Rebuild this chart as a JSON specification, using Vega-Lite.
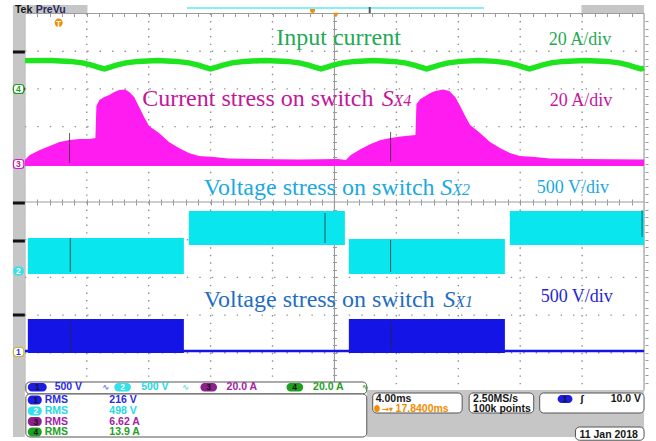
{
"$schema": "https://vega.github.io/schema/vega-lite/v6.json",
"width": 656, "height": 441,
"autosize": {"type": "fit", "contains": "padding"},
"padding": 0,
"background": "white",
"config": {"view": {"stroke": null}},
"resolve": {"axis": {"x": "independent", "y": "independent"}},
"layer": [
{
 "data": {"values": [{"y":4},{"y":3},{"y":2},{"y":1},{"y":-1},{"y":-2},{"y":-3},{"y":-4}]},
 "mark": {"type": "rule", "color": "#8f8f8f", "strokeWidth": 1.4, "strokeDash": [1.4, 11.06]},
 "encoding": {
  "x": {"datum": 0, "type": "quantitative", "scale": {"domain": [-0.4013, 10.1284], "nice": false, "zero": false}, "axis": null},
  "x2": {"datum": 10},
  "y": {"field": "y", "type": "quantitative", "scale": {"domain": [-6.3395, 5.3581], "nice": false, "zero": false}, "axis": null}
 }
},
{
 "data": {"values": [{"x":1},{"x":2},{"x":3},{"x":4},{"x":6},{"x":7},{"x":8},{"x":9}]},
 "mark": {"type": "rule", "color": "#8f8f8f", "strokeWidth": 1.4, "strokeDash": [1.4, 6.14]},
 "encoding": {
  "x": {"field": "x", "type": "quantitative", "scale": {"domain": [-0.4013, 10.1284], "nice": false, "zero": false}, "axis": null},
  "y": {"datum": 5, "type": "quantitative", "scale": {"domain": [-6.3395, 5.3581], "nice": false, "zero": false}, "axis": null},
  "y2": {"datum": -5}
 }
},
{
 "data": {"values": [
  {"x":0,"x2":10,"y":0,"y2":0},
  {"x":5,"x2":5,"y":5,"y2":-5},
  {"x":0,"x2":10,"y":5,"y2":5},
  {"x":10,"x2":10,"y":5,"y2":-5},
  {"x":0,"x2":0,"y":5,"y2":-5}
 ]},
 "mark": {"type": "rule", "color": "#9c9c9c", "strokeWidth": 1.2},
 "encoding": {
  "x": {"field": "x", "type": "quantitative", "scale": {"domain": [-0.4013, 10.1284], "nice": false, "zero": false},
   "axis": {"orient": "bottom", "offset": -239, "values": [0.2,0.4,0.6,0.8,1,1.2,1.4,1.6,1.8,2,2.2,2.4,2.6,2.8,3,3.2,3.4,3.6,3.8,4,4.2,4.4,4.6,4.8,5,5.2,5.4,5.6,5.8,6,6.2,6.4,6.6,6.8,7,7.2,7.4,7.6,7.8,8,8.2,8.4,8.6,8.8,9,9.2,9.4,9.6,9.8], "labels": false, "domain": false, "grid": false, "ticks": true, "tickSize": 3, "tickColor": "#999999", "tickWidth": 1, "title": null, "minExtent": 0}},
  "x2": {"field": "x2"},
  "y": {"field": "y", "type": "quantitative", "scale": {"domain": [-6.3395, 5.3581], "nice": false, "zero": false},
   "axis": {"orient": "left", "offset": -336.5, "values": [-4.8,-4.6,-4.4,-4.2,-4,-3.8,-3.6,-3.4,-3.2,-3,-2.8,-2.6,-2.4,-2.2,-2,-1.8,-1.6,-1.4,-1.2,-1,-0.8,-0.6,-0.4,-0.2,0.2,0.4,0.6,0.8,1,1.2,1.4,1.6,1.8,2,2.2,2.4,2.6,2.8,3,3.2,3.4,3.6,3.8,4,4.2,4.4,4.6,4.8], "labels": false, "domain": false, "grid": false, "ticks": true, "tickSize": 3, "tickColor": "#999999", "tickWidth": 1, "title": null, "minExtent": 0}},
  "y2": {"field": "y2"}
 }
},
{
 "data": {"values": [{"x":0,"x2":10,"y":-3.9523}]},
 "mark": {"type": "rule", "color": "#1414e6", "strokeWidth": 2.5},
 "encoding": {
  "x": {"field": "x", "type": "quantitative", "scale": {"domain": [-0.4013, 10.1284], "nice": false, "zero": false}, "axis": null},
  "x2": {"field": "x2"},
  "y": {"field": "y", "type": "quantitative", "scale": {"domain": [-6.3395, 5.3581], "nice": false, "zero": false}, "axis": null}
 }
},
{
 "data": {"values": [
  {"x":0.0482,"x2":2.5682,"y":-3.1034,"y2":-4.0053},
  {"x":5.2327,"x2":7.7528,"y":-3.1034,"y2":-4.0053}
 ]},
 "mark": {"type": "rect", "color": "#1414e6"},
 "encoding": {
  "x": {"field": "x", "type": "quantitative", "scale": {"domain": [-0.4013, 10.1284], "nice": false, "zero": false}, "axis": null},
  "x2": {"field": "x2"},
  "y": {"field": "y", "type": "quantitative", "scale": {"domain": [-6.3395, 5.3581], "nice": false, "zero": false}, "axis": null},
  "y2": {"field": "y2"}
 }
},
{
 "data": {"values": [
  {"x":0.0482,"x2":2.5682,"y":-0.9549,"y2":-1.9098},
  {"x":2.6485,"x2":5.1685,"y":-0.2387,"y2":-1.1406},
  {"x":5.2327,"x2":7.7528,"y":-0.9814,"y2":-1.9098},
  {"x":7.8331,"x2":10.0,"y":-0.2387,"y2":-1.1406}
 ]},
 "mark": {"type": "rect", "color": "#0ae6ee"},
 "encoding": {
  "x": {"field": "x", "type": "quantitative", "scale": {"domain": [-0.4013, 10.1284], "nice": false, "zero": false}, "axis": null},
  "x2": {"field": "x2"},
  "y": {"field": "y", "type": "quantitative", "scale": {"domain": [-6.3395, 5.3581], "nice": false, "zero": false}, "axis": null},
  "y2": {"field": "y2"}
 }
},
{
 "data": {"values": [
  {"x":0.0,"t":1.1141},{"x":0.0803,"t":1.2467},{"x":0.2408,"t":1.3793},{"x":0.4013,"t":1.4854},{"x":0.5618,"t":1.5915},{"x":0.7223,"t":1.6446},{"x":0.8828,"t":1.6711},{"x":1.0433,"t":1.6711},{"x":1.1396,"t":1.6976},{"x":1.1557,"t":2.5464},{"x":1.2039,"t":2.7056},{"x":1.2841,"t":2.7851},{"x":1.3644,"t":2.8382},{"x":1.4446,"t":2.9178},{"x":1.5249,"t":2.9708},{"x":1.6212,"t":2.9841},{"x":1.6854,"t":2.9178},{"x":1.7657,"t":2.7851},{"x":1.8459,"t":2.5199},{"x":1.9262,"t":2.2546},{"x":2.0064,"t":2.0159},{"x":2.1669,"t":1.8302},{"x":2.3274,"t":1.5915},{"x":2.488,"t":1.4324},{"x":2.6485,"t":1.2997},{"x":2.809,"t":1.2202},{"x":3.0498,"t":1.1936},{"x":3.2905,"t":1.1538},{"x":3.7721,"t":1.1406},{"x":4.4141,"t":1.1273},{"x":5.0562,"t":1.1406},
  {"x":5.1846,"t":1.1141},{"x":5.2648,"t":1.2467},{"x":5.4254,"t":1.4058},{"x":5.5859,"t":1.5385},{"x":5.7464,"t":1.6446},{"x":5.9069,"t":1.6976},{"x":6.0674,"t":1.7374},{"x":6.2279,"t":1.7639},{"x":6.3082,"t":1.7772},{"x":6.3242,"t":2.5995},{"x":6.3884,"t":2.7321},{"x":6.4687,"t":2.8117},{"x":6.549,"t":2.8912},{"x":6.6292,"t":2.9443},{"x":6.7576,"t":2.9841},{"x":6.8539,"t":2.9443},{"x":6.9502,"t":2.7851},{"x":7.0305,"t":2.5464},{"x":7.1108,"t":2.2812},{"x":7.191,"t":2.0424},{"x":7.3515,"t":1.8302},{"x":7.512,"t":1.5915},{"x":7.6726,"t":1.4324},{"x":7.8331,"t":1.2997},{"x":7.9936,"t":1.2202},{"x":8.2343,"t":1.1936},{"x":8.4751,"t":1.1538},{"x":9.069,"t":1.1406},{"x":10.0,"t":1.1273}
 ]},
 "mark": {"type": "area", "color": "#ff1cf0", "opacity": 1},
 "encoding": {
  "x": {"field": "x", "type": "quantitative", "scale": {"domain": [-0.4013, 10.1284], "nice": false, "zero": false}, "axis": null},
  "y": {"field": "t", "type": "quantitative", "scale": {"domain": [-6.3395, 5.3581], "nice": false, "zero": false},
   "axis": {"orient": "right", "offset": -631, "values": [-4.8,-4.6,-4.4,-4.2,-4,-3.8,-3.6,-3.4,-3.2,-3,-2.8,-2.6,-2.4,-2.2,-2,-1.8,-1.6,-1.4,-1.2,-1,-0.8,-0.6,-0.4,-0.2,0,0.2,0.4,0.6,0.8,1,1.2,1.4,1.6,1.8,2,2.2,2.4,2.6,2.8,3,3.2,3.4,3.6,3.8,4,4.2,4.4,4.6,4.8], "labels": false, "domain": false, "grid": false, "ticks": true, "tickSize": 3, "tickColor": "#999999", "tickWidth": 1, "title": null, "minExtent": 0}},
  "y2": {"datum": 0.955}
 }
},
{
 "data": {"values": [
  {"x":0,"y":3.75},{"x":0.43,"y":3.755},{"x":0.73,"y":3.73},{"x":0.93,"y":3.69},{"x":1.08,"y":3.63},{"x":1.18,"y":3.58},{"x":1.284,"y":3.53},{"x":1.38,"y":3.58},{"x":1.48,"y":3.63},{"x":1.63,"y":3.69},{"x":1.83,"y":3.73},{"x":2.14,"y":3.755},{"x":2.45,"y":3.73},{"x":2.65,"y":3.69},{"x":2.8,"y":3.63},{"x":2.9,"y":3.58},{"x":2.997,"y":3.53},{"x":3.1,"y":3.58},{"x":3.2,"y":3.63},{"x":3.35,"y":3.69},{"x":3.55,"y":3.73},{"x":3.89,"y":3.755},{"x":4.23,"y":3.73},{"x":4.43,"y":3.69},{"x":4.58,"y":3.63},{"x":4.68,"y":3.58},{"x":4.783,"y":3.53},{"x":4.88,"y":3.58},{"x":4.98,"y":3.63},{"x":5.13,"y":3.69},{"x":5.33,"y":3.73},{"x":5.64,"y":3.755},{"x":5.94,"y":3.73},{"x":6.14,"y":3.69},{"x":6.29,"y":3.63},{"x":6.39,"y":3.58},{"x":6.489,"y":3.53},{"x":6.59,"y":3.58},{"x":6.69,"y":3.63},{"x":6.84,"y":3.69},{"x":7.04,"y":3.73},{"x":7.32,"y":3.755},{"x":7.6,"y":3.73},{"x":7.8,"y":3.69},{"x":7.95,"y":3.63},{"x":8.05,"y":3.58},{"x":8.149,"y":3.53},{"x":8.25,"y":3.58},{"x":8.35,"y":3.63},{"x":8.5,"y":3.69},{"x":8.7,"y":3.73},{"x":9.05,"y":3.755},{"x":9.4,"y":3.73},{"x":9.6,"y":3.69},{"x":9.75,"y":3.63},{"x":9.85,"y":3.58},{"x":9.95,"y":3.53},{"x":10.0,"y":3.55}
 ]},
 "mark": {"type": "line", "color": "#1ee41e", "strokeWidth": 5.5},
 "encoding": {
  "x": {"field": "x", "type": "quantitative", "scale": {"domain": [-0.4013, 10.1284], "nice": false, "zero": false},
   "axis": {"orient": "bottom", "offset": -427.5, "values": [0.2,0.4,0.6,0.8,1,1.2,1.4,1.6,1.8,2,2.2,2.4,2.6,2.8,3,3.2,3.4,3.6,3.8,4,4.2,4.4,4.6,4.8,5,5.2,5.4,5.6,5.8,6,6.2,6.4,6.6,6.8,7,7.2,7.4,7.6,7.8,8,8.2,8.4,8.6,8.8,9,9.2,9.4,9.6,9.8], "labels": false, "domain": false, "grid": false, "ticks": true, "tickSize": 3, "tickColor": "#999999", "tickWidth": 1, "title": null, "minExtent": 0}},
  "y": {"field": "y", "type": "quantitative", "scale": {"domain": [-6.3395, 5.3581], "nice": false, "zero": false},
   "axis": {"orient": "left", "offset": -648, "values": [-4.8,-4.6,-4.4,-4.2,-4,-3.8,-3.6,-3.4,-3.2,-3,-2.8,-2.6,-2.4,-2.2,-2,-1.8,-1.6,-1.4,-1.2,-1,-0.8,-0.6,-0.4,-0.2,0,0.2,0.4,0.6,0.8,1,1.2,1.4,1.6,1.8,2,2.2,2.4,2.6,2.8,3,3.2,3.4,3.6,3.8,4,4.2,4.4,4.6,4.8], "labels": false, "domain": false, "grid": false, "ticks": true, "tickSize": 3, "tickColor": "#999999", "tickWidth": 1, "title": null, "minExtent": 0}}
 }
},
{
 "data": {"values": [
  {"x":0.7223,"y":1.8302,"y2":1.0345},{"x":5.9069,"y":1.8568,"y2":1.061},
  {"x":0.7335,"y":-0.9549,"y2":-1.8568},{"x":5.9069,"y":-1.008,"y2":-1.8568},
  {"x":4.8475,"y":-0.2918,"y2":-1.0875},{"x":9.9679,"y":-0.2122,"y2":-0.9284},
  {"x":0.7335,"y":-3.2095,"y2":-3.9788},{"x":5.9069,"y":-3.2095,"y2":-3.9257}
 ]},
 "mark": {"type": "rule", "color": "#2a2a2a", "strokeWidth": 1, "opacity": 0.75},
 "encoding": {
  "x": {"field": "x", "type": "quantitative", "scale": {"domain": [-0.4013, 10.1284], "nice": false, "zero": false},
   "axis": {"orient": "top", "offset": -202, "values": [0.2,0.4,0.6,0.8,1,1.2,1.4,1.6,1.8,2,2.2,2.4,2.6,2.8,3,3.2,3.4,3.6,3.8,4,4.2,4.4,4.6,4.8,5,5.2,5.4,5.6,5.8,6,6.2,6.4,6.6,6.8,7,7.2,7.4,7.6,7.8,8,8.2,8.4,8.6,8.8,9,9.2,9.4,9.6,9.8], "labels": false, "domain": false, "grid": false, "ticks": true, "tickSize": 3, "tickColor": "#999999", "tickWidth": 1, "title": null, "minExtent": 0}},
  "y": {"field": "y", "type": "quantitative", "scale": {"domain": [-6.3395, 5.3581], "nice": false, "zero": false},
   "axis": {"orient": "right", "offset": -319.5, "values": [-4.8,-4.6,-4.4,-4.2,-4,-3.8,-3.6,-3.4,-3.2,-3,-2.8,-2.6,-2.4,-2.2,-2,-1.8,-1.6,-1.4,-1.2,-1,-0.8,-0.6,-0.4,-0.2,0.2,0.4,0.6,0.8,1,1.2,1.4,1.6,1.8,2,2.2,2.4,2.6,2.8,3,3.2,3.4,3.6,3.8,4,4.2,4.4,4.6,4.8], "labels": false, "domain": false, "grid": false, "ticks": true, "tickSize": 3, "tickColor": "#999999", "tickWidth": 1, "title": null, "minExtent": 0}},
  "y2": {"field": "y2"}
 }
},
{
 "data": {"values": [
  {"x":-0.1926,"x2":0,"y":5.2255,"y2":-6.2334},
  {"x":-0.1926,"x2":1.0112,"y":5.2255,"y2":5.0133},
  {"x":8.9888,"x2":10,"y":5.2255,"y2":5.0133},
  {"x":5.5217,"x2":10,"y":-4.9867,"y2":-6.2334}
 ]},
 "mark": {"type": "rect", "color": "#c6c6c6"},
 "encoding": {
  "x": {"field": "x", "type": "quantitative", "scale": {"domain": [-0.4013, 10.1284], "nice": false, "zero": false}, "axis": null},
  "x2": {"field": "x2"},
  "y": {"field": "y", "type": "quantitative", "scale": {"domain": [-6.3395, 5.3581], "nice": false, "zero": false}, "axis": null},
  "y2": {"field": "y2"}
 }
},
{
 "data": {"values": [
  {"y":4.0186,"y2":3.939},{"y":3.0371,"y2":2.9576},{"y":0.0133,"y2":-0.0663},{"y":-0.9947,"y2":-1.0743},{"y":-2.9576,"y2":-3.0371}
 ]},
 "mark": {"type": "rect", "color": "#111111"},
 "encoding": {
  "x": {"datum": -0.1926, "type": "quantitative", "scale": {"domain": [-0.4013, 10.1284], "nice": false, "zero": false}, "axis": null},
  "x2": {"datum": 0},
  "y": {"field": "y", "type": "quantitative", "scale": {"domain": [-6.3395, 5.3581], "nice": false, "zero": false}, "axis": null},
  "y2": {"field": "y2"}
 }
},
{
 "data": {"values": [
  {"x":0.0161,"x2":5.5217,"y":-4.7745,"y2":-5.0928},
  {"x":0.0161,"x2":5.5217,"y":-5.0928,"y2":-6.2334},
  {"x":5.618,"x2":7.0626,"y":-5.0663,"y2":-5.5968},
  {"x":7.175,"x2":8.2183,"y":-5.0663,"y2":-5.5968},
  {"x":8.3146,"x2":10.0,"y":-5.0663,"y2":-5.5968},
  {"x":8.8925,"x2":10.0,"y":-5.9682,"y2":-6.32}
 ]},
 "mark": {"type": "rect", "fill": "#ffffff", "stroke": "#555555", "strokeWidth": 1, "cornerRadius": 4},
 "encoding": {
  "x": {"field": "x", "type": "quantitative", "scale": {"domain": [-0.4013, 10.1284], "nice": false, "zero": false}, "axis": null},
  "x2": {"field": "x2"},
  "y": {"field": "y", "type": "quantitative", "scale": {"domain": [-6.3395, 5.3581], "nice": false, "zero": false}, "axis": null},
  "y2": {"field": "y2"}
 }
},
{
 "data": {"values": [
  {"y":3.1167,"y2":2.878,"s":"4"},{"y":1.1273,"y2":0.8886,"s":"3"},{"y":-3.8594,"y2":-4.0981,"s":"1"}
 ]},
 "mark": {"type": "rect", "fill": "#ffffff", "strokeWidth": 1.2, "cornerRadius": 3},
 "encoding": {
  "x": {"datum": -0.1846, "type": "quantitative", "scale": {"domain": [-0.4013, 10.1284], "nice": false, "zero": false}, "axis": null},
  "x2": {"datum": -0.0161},
  "y": {"field": "y", "type": "quantitative", "scale": {"domain": [-6.3395, 5.3581], "nice": false, "zero": false}, "axis": null},
  "y2": {"field": "y2"},
  "stroke": {"field": "s", "type": "nominal", "scale": {"domain": ["4","3","1"], "range": ["#1f9e1f","#d01cc8","#c9b43a"]}, "legend": null}
 }
},
{
 "data": {"values": [
  {"x":0.0482,"x2":0.3531,"y":-4.8011,"y2":-5.0265,"c":"o1"},
  {"x":1.4446,"x2":1.7127,"y":-4.8011,"y2":-5.0265,"c":"o2"},
  {"x":2.836,"x2":3.1034,"y":-4.8011,"y2":-5.0265,"c":"o3"},
  {"x":4.2263,"x2":4.4944,"y":-4.8011,"y2":-5.0265,"c":"o4"},
  {"x":0.0482,"x2":0.2729,"y":-5.1326,"y2":-5.3714,"c":"o1"},
  {"x":0.0482,"x2":0.2729,"y":-5.4244,"y2":-5.6632,"c":"o2"},
  {"x":0.0482,"x2":0.2729,"y":-5.7029,"y2":-5.9417,"c":"o3"},
  {"x":0.0482,"x2":0.2729,"y":-5.9814,"y2":-6.2202,"c":"o4"},
  {"x":8.6035,"x2":8.8443,"y":-5.1194,"y2":-5.3316,"c":"o1"},
  {"x":-0.1846,"x2":-0.0161,"y":-1.7109,"y2":-1.9496,"c":"o2"},
  {"x":0.4815,"x2":0.61,"y":4.8674,"y2":4.6419,"c":"o"},
  {"x":5.642,"x2":5.7303,"y":-5.3846,"y2":-5.5703,"c":"o"},
  {"x":4.6067,"x2":4.687,"y":5.1724,"y2":5.0133,"c":"o"}
 ]},
 "mark": {"type": "rect", "cornerRadius": 4},
 "encoding": {
  "x": {"field": "x", "type": "quantitative", "scale": {"domain": [-0.4013, 10.1284], "nice": false, "zero": false}, "axis": null},
  "x2": {"field": "x2"},
  "y": {"field": "y", "type": "quantitative", "scale": {"domain": [-6.3395, 5.3581], "nice": false, "zero": false}, "axis": null},
  "y2": {"field": "y2"},
  "color": {"field": "c", "type": "nominal", "legend": null, "scale": {"domain": ["g","m","c","b","b2","p1","p2","p3","p4","k","n","o","w","o1","o2","o3","o4","i1","i2","i4","tc","dk"], "range": ["#1fa955","#c4169b","#1aa9e2","#1e6ec2","#2626cf","#2b2be6","#25d9e2","#a422a4","#22a022","#161616","#24285e","#f28c00","#ffffff","#1c1ce2","#30e2ea","#8e1f8e","#1f9e1f","#6a7ae8","#66e0e8","#40b040","#86eef5","#555555"]}}
 }
},
{
 "data": {"values": [
  {"x":2.6164,"x2":7.4157,"y":5.1459,"y2":5.1459,"c":"tc"},
  {"x":5.5698,"x2":5.5698,"y":5.1724,"y2":5.0133,"c":"dk"}
 ]},
 "mark": {"type": "rule", "strokeWidth": 2},
 "encoding": {
  "x": {"field": "x", "type": "quantitative", "scale": {"domain": [-0.4013, 10.1284], "nice": false, "zero": false}, "axis": null},
  "x2": {"field": "x2"},
  "y": {"field": "y", "type": "quantitative", "scale": {"domain": [-6.3395, 5.3581], "nice": false, "zero": false}, "axis": null},
  "y2": {"field": "y2"},
  "color": {"field": "c", "type": "nominal", "legend": null, "scale": {"domain": ["g","m","c","b","b2","p1","p2","p3","p4","k","n","o","w","o1","o2","o3","o4","i1","i2","i4","tc","dk"], "range": ["#1fa955","#c4169b","#1aa9e2","#1e6ec2","#2626cf","#2b2be6","#25d9e2","#a422a4","#22a022","#161616","#24285e","#f28c00","#ffffff","#1c1ce2","#30e2ea","#8e1f8e","#1f9e1f","#6a7ae8","#66e0e8","#40b040","#86eef5","#555555"]}}
 }
},
{
 "data": {"values": [{"x":5.0241,"y":4.96}]},
 "mark": {"type": "point", "shape": "triangle-down", "filled": true, "size": 30, "color": "#f28c00", "opacity": 1},
 "encoding": {
  "x": {"field": "x", "type": "quantitative", "scale": {"domain": [-0.4013, 10.1284], "nice": false, "zero": false}, "axis": null},
  "y": {"field": "y", "type": "quantitative", "scale": {"domain": [-6.3395, 5.3581], "nice": false, "zero": false}, "axis": null}
 }
},
{
 "data": {"values": [
  {"t":"Input current","x":4.061,"y":4.1777,"c":"g"},
  {"t":"Current stress on switch","x":1.8941,"y":2.5464,"c":"m"},
  {"t":"Voltage stress on switch","x":2.8892,"y":0.1857,"c":"c"},
  {"t":"Voltage stress on switch","x":2.8892,"y":-2.7772,"c":"b"}
 ]},
 "mark": {"type": "text", "font": "Liberation Serif", "fontSize": 24, "align": "left", "baseline": "alphabetic"},
 "encoding": {
  "x": {"field": "x", "type": "quantitative", "scale": {"domain": [-0.4013, 10.1284], "nice": false, "zero": false}, "axis": null},
  "y": {"field": "y", "type": "quantitative", "scale": {"domain": [-6.3395, 5.3581], "nice": false, "zero": false}, "axis": null},
  "text": {"field": "t"},
  "color": {"field": "c", "type": "nominal", "legend": null, "scale": {"domain": ["g","m","c","b","b2","p1","p2","p3","p4","k","n","o","w","o1","o2","o3","o4","i1","i2","i4","tc","dk"], "range": ["#1fa955","#c4169b","#1aa9e2","#1e6ec2","#2626cf","#2b2be6","#25d9e2","#a422a4","#22a022","#161616","#24285e","#f28c00","#ffffff","#1c1ce2","#30e2ea","#8e1f8e","#1f9e1f","#6a7ae8","#66e0e8","#40b040","#86eef5","#555555"]}}
 }
},
{
 "data": {"values": [
  {"t":"20 A/div","x":8.4591,"y":4.1777,"c":"g"},
  {"t":"20 A/div","x":8.4751,"y":2.5464,"c":"m"},
  {"t":"500 V/div","x":8.2665,"y":0.2299,"c":"c"},
  {"t":"500 V/div","x":8.3307,"y":-2.6437,"c":"b2"}
 ]},
 "mark": {"type": "text", "font": "Liberation Serif", "fontSize": 18, "align": "left", "baseline": "alphabetic"},
 "encoding": {
  "x": {"field": "x", "type": "quantitative", "scale": {"domain": [-0.4013, 10.1284], "nice": false, "zero": false}, "axis": null},
  "y": {"field": "y", "type": "quantitative", "scale": {"domain": [-6.3395, 5.3581], "nice": false, "zero": false}, "axis": null},
  "text": {"field": "t"},
  "color": {"field": "c", "type": "nominal", "legend": null, "scale": {"domain": ["g","m","c","b","b2","p1","p2","p3","p4","k","n","o","w","o1","o2","o3","o4","i1","i2","i4","tc","dk"], "range": ["#1fa955","#c4169b","#1aa9e2","#1e6ec2","#2626cf","#2b2be6","#25d9e2","#a422a4","#22a022","#161616","#24285e","#f28c00","#ffffff","#1c1ce2","#30e2ea","#8e1f8e","#1f9e1f","#6a7ae8","#66e0e8","#40b040","#86eef5","#555555"]}}
 }
},
{
 "data": {"values": [
  {"t":"S","x":5.7624,"y":2.5464,"c":"m"},
  {"t":"S","x":6.7095,"y":0.1857,"c":"c"},
  {"t":"S","x":6.7576,"y":-2.7772,"c":"b"}
 ]},
 "mark": {"type": "text", "font": "Liberation Serif", "fontSize": 24, "fontStyle": "italic", "align": "left", "baseline": "alphabetic"},
 "encoding": {
  "x": {"field": "x", "type": "quantitative", "scale": {"domain": [-0.4013, 10.1284], "nice": false, "zero": false}, "axis": null},
  "y": {"field": "y", "type": "quantitative", "scale": {"domain": [-6.3395, 5.3581], "nice": false, "zero": false}, "axis": null},
  "text": {"field": "t"},
  "color": {"field": "c", "type": "nominal", "legend": null, "scale": {"domain": ["g","m","c","b","b2","p1","p2","p3","p4","k","n","o","w","o1","o2","o3","o4","i1","i2","i4","tc","dk"], "range": ["#1fa955","#c4169b","#1aa9e2","#1e6ec2","#2626cf","#2b2be6","#25d9e2","#a422a4","#22a022","#161616","#24285e","#f28c00","#ffffff","#1c1ce2","#30e2ea","#8e1f8e","#1f9e1f","#6a7ae8","#66e0e8","#40b040","#86eef5","#555555"]}}
 }
},
{
 "data": {"values": [
  {"t":"X4","x":5.9551,"y":2.5464,"c":"m"},
  {"t":"X2","x":6.9021,"y":0.1857,"c":"c"},
  {"t":"X1","x":6.9502,"y":-2.7772,"c":"b"}
 ]},
 "mark": {"type": "text", "font": "Liberation Serif", "fontSize": 16, "fontStyle": "italic", "align": "left", "baseline": "alphabetic"},
 "encoding": {
  "x": {"field": "x", "type": "quantitative", "scale": {"domain": [-0.4013, 10.1284], "nice": false, "zero": false}, "axis": null},
  "y": {"field": "y", "type": "quantitative", "scale": {"domain": [-6.3395, 5.3581], "nice": false, "zero": false}, "axis": null},
  "text": {"field": "t"},
  "color": {"field": "c", "type": "nominal", "legend": null, "scale": {"domain": ["g","m","c","b","b2","p1","p2","p3","p4","k","n","o","w","o1","o2","o3","o4","i1","i2","i4","tc","dk"], "range": ["#1fa955","#c4169b","#1aa9e2","#1e6ec2","#2626cf","#2b2be6","#25d9e2","#a422a4","#22a022","#161616","#24285e","#f28c00","#ffffff","#1c1ce2","#30e2ea","#8e1f8e","#1f9e1f","#6a7ae8","#66e0e8","#40b040","#86eef5","#555555"]}}
 }
},
{
 "data": {"values": [
  {"t":"500 V","x":0.4815,"y":-4.9204,"c":"p1"},
  {"t":"500 V","x":1.878,"y":-4.9204,"c":"p2"},
  {"t":"20.0 A","x":3.2584,"y":-4.9204,"c":"p3"},
  {"t":"20.0 A","x":4.6549,"y":-4.9204,"c":"p4"},
  {"t":"RMS","x":0.321,"y":-5.252,"c":"p1"},{"t":"216 V","x":1.3644,"y":-5.252,"c":"p1"},
  {"t":"RMS","x":0.321,"y":-5.5438,"c":"p2"},{"t":"498 V","x":1.3644,"y":-5.5438,"c":"p2"},
  {"t":"RMS","x":0.321,"y":-5.8223,"c":"p3"},{"t":"6.62 A","x":1.3644,"y":-5.8223,"c":"p3"},
  {"t":"RMS","x":0.321,"y":-6.1008,"c":"p4"},{"t":"13.9 A","x":1.3644,"y":-6.1008,"c":"p4"},
  {"t":"4.00ms","x":5.6661,"y":-5.2122,"c":"k"},
  {"t":"17.8400ms","x":5.9872,"y":-5.4907,"c":"o"},
  {"t":"2.50MS/s","x":7.2392,"y":-5.2122,"c":"k"},
  {"t":"100k points","x":7.2392,"y":-5.4907,"c":"k"},
  {"t":"10.0 V","x":9.4623,"y":-5.2255,"c":"k"},
  {"t":"11 Jan 2018","x":8.9567,"y":-6.1936,"c":"k"},
  {"t":"Tek","x":-0.1605,"y":5.1061,"c":"k"},
  {"t":"PreVu","x":0.1766,"y":5.1061,"c":"n"}
 ]},
 "mark": {"type": "text", "font": "Liberation Sans", "fontWeight": "bold", "fontSize": 10.5, "align": "left", "baseline": "middle"},
 "encoding": {
  "x": {"field": "x", "type": "quantitative", "scale": {"domain": [-0.4013, 10.1284], "nice": false, "zero": false}, "axis": null},
  "y": {"field": "y", "type": "quantitative", "scale": {"domain": [-6.3395, 5.3581], "nice": false, "zero": false}, "axis": null},
  "text": {"field": "t"},
  "color": {"field": "c", "type": "nominal", "legend": null, "scale": {"domain": ["g","m","c","b","b2","p1","p2","p3","p4","k","n","o","w","o1","o2","o3","o4","i1","i2","i4","tc","dk"], "range": ["#1fa955","#c4169b","#1aa9e2","#1e6ec2","#2626cf","#2b2be6","#25d9e2","#a422a4","#22a022","#161616","#24285e","#f28c00","#ffffff","#1c1ce2","#30e2ea","#8e1f8e","#1f9e1f","#6a7ae8","#66e0e8","#40b040","#86eef5","#555555"]}}
 }
},
{
 "data": {"values": [
  {"t":"∿","x":1.252,"y":-4.9204,"c":"i1"},
  {"t":"∿","x":2.5361,"y":-4.9204,"c":"i2"},
  {"t":"∿","x":5.4414,"y":-4.9204,"c":"i4"},
  {"t":"→▾","x":5.7624,"y":-5.4907,"c":"o"},
  {"t":"ʃ","x":8.9727,"y":-5.2255,"c":"k"}
 ]},
 "mark": {"type": "text", "font": "DejaVu Sans", "fontWeight": "bold", "fontSize": 8.5, "align": "left", "baseline": "middle"},
 "encoding": {
  "x": {"field": "x", "type": "quantitative", "scale": {"domain": [-0.4013, 10.1284], "nice": false, "zero": false}, "axis": null},
  "y": {"field": "y", "type": "quantitative", "scale": {"domain": [-6.3395, 5.3581], "nice": false, "zero": false}, "axis": null},
  "text": {"field": "t"},
  "color": {"field": "c", "type": "nominal", "legend": null, "scale": {"domain": ["g","m","c","b","b2","p1","p2","p3","p4","k","n","o","w","o1","o2","o3","o4","i1","i2","i4","tc","dk"], "range": ["#1fa955","#c4169b","#1aa9e2","#1e6ec2","#2626cf","#2b2be6","#25d9e2","#a422a4","#22a022","#161616","#24285e","#f28c00","#ffffff","#1c1ce2","#30e2ea","#8e1f8e","#1f9e1f","#6a7ae8","#66e0e8","#40b040","#86eef5","#555555"]}}
 }
},
{
 "data": {"values": [
  {"t":"1","x":0.2006,"y":-4.9072,"c":"k"},{"t":"2","x":1.5783,"y":-4.9072,"c":"w"},{"t":"3","x":2.9695,"y":-4.9072,"c":"k"},{"t":"4","x":4.3579,"y":-4.9072,"c":"k"},
  {"t":"1","x":0.1766,"y":-5.252,"c":"k"},{"t":"2","x":0.1766,"y":-5.5438,"c":"w"},{"t":"3","x":0.1766,"y":-5.8223,"c":"k"},{"t":"4","x":0.1766,"y":-6.1008,"c":"k"},
  {"t":"1","x":8.7239,"y":-5.2255,"c":"k"},
  {"t":"4","x":-0.1043,"y":2.9973,"c":"p4"},{"t":"3","x":-0.1043,"y":1.008,"c":"m"},{"t":"2","x":-0.1043,"y":-1.8302,"c":"w"},{"t":"1","x":-0.1043,"y":-3.9788,"c":"p1"},
  {"t":"T","x":0.5457,"y":4.7347,"c":"w"}
 ]},
 "mark": {"type": "text", "font": "Liberation Sans", "fontWeight": "bold", "fontSize": 8.5, "align": "center", "baseline": "middle"},
 "encoding": {
  "x": {"field": "x", "type": "quantitative", "scale": {"domain": [-0.4013, 10.1284], "nice": false, "zero": false}, "axis": null},
  "y": {"field": "y", "type": "quantitative", "scale": {"domain": [-6.3395, 5.3581], "nice": false, "zero": false}, "axis": null},
  "text": {"field": "t"},
  "color": {"field": "c", "type": "nominal", "legend": null, "scale": {"domain": ["g","m","c","b","b2","p1","p2","p3","p4","k","n","o","w","o1","o2","o3","o4","i1","i2","i4","tc","dk"], "range": ["#1fa955","#c4169b","#1aa9e2","#1e6ec2","#2626cf","#2b2be6","#25d9e2","#a422a4","#22a022","#161616","#24285e","#f28c00","#ffffff","#1c1ce2","#30e2ea","#8e1f8e","#1f9e1f","#6a7ae8","#66e0e8","#40b040","#86eef5","#555555"]}}
 }
}
]
}
